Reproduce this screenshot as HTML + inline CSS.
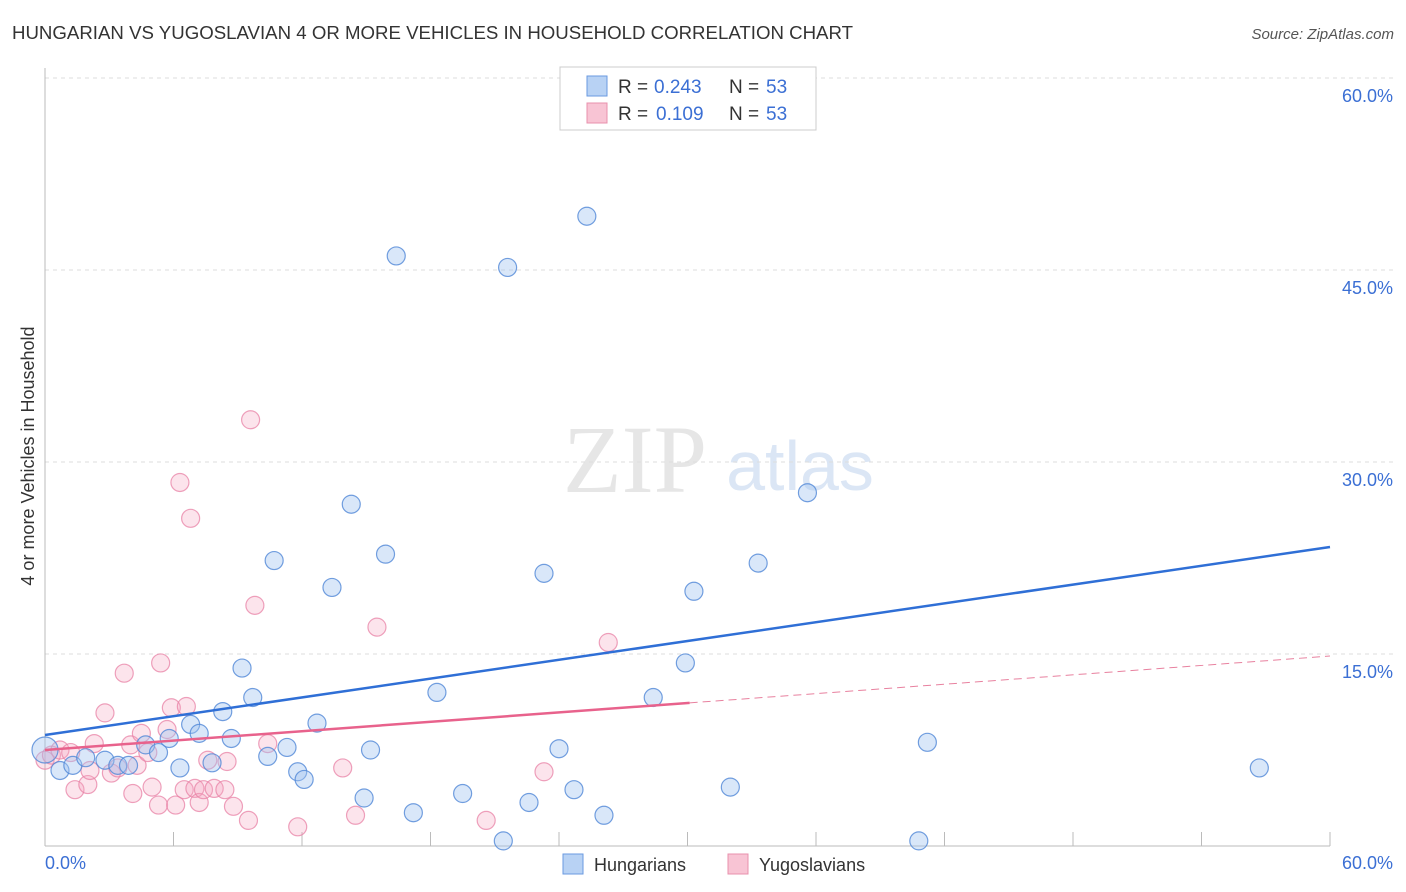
<!DOCTYPE html>
<html><head><meta charset="utf-8"><style>
body{margin:0;background:#fff;font-family:"Liberation Sans",sans-serif;}
svg{display:block}
</style></head><body>
<svg id="c" width="1406" height="892">
<text x="12" y="39" font-size="18" fill="#333" textLength="841" lengthAdjust="spacingAndGlyphs">HUNGARIAN VS YUGOSLAVIAN 4 OR MORE VEHICLES IN HOUSEHOLD CORRELATION CHART</text>
<text x="1394" y="39" font-size="15" fill="#555" text-anchor="end" font-style="italic">Source: ZipAtlas.com</text>
<text x="635" y="492" font-size="96" fill="#e6e6e6" font-family="Liberation Serif" text-anchor="middle">ZIP</text>
<text x="800" y="490" font-size="70" fill="#dbe6f5" text-anchor="middle">atlas</text>
<g id="grid"></g><g id="pts"></g><g id="lines"></g>
<text transform="translate(34,456) rotate(-90)" font-size="18" fill="#333" text-anchor="middle">4 or more Vehicles in Household</text>
<text x="45" y="869" font-size="18" fill="#3b6fd4">0.0%</text>
<text x="1393" y="869" font-size="18" fill="#3b6fd4" text-anchor="end">60.0%</text>
<g>
<rect x="560" y="67" width="256" height="63" fill="#fff" stroke="#ccc"/>
<rect x="587" y="76" width="20" height="20" fill="#b8d2f4" stroke="#6a9ae0"/>
<rect x="587" y="103" width="20" height="20" fill="#f8c4d4" stroke="#e890ad"/>
<text x="618" y="93" font-size="19" fill="#333">R =</text>
<text x="654" y="93" font-size="19" fill="#3b6fd4">0.243</text>
<text x="729" y="93" font-size="19" fill="#333">N =</text>
<text x="766" y="93" font-size="19" fill="#3b6fd4">53</text>
<text x="618" y="120" font-size="19" fill="#333">R =</text>
<text x="656" y="120" font-size="19" fill="#3b6fd4">0.109</text>
<text x="729" y="120" font-size="19" fill="#333">N =</text>
<text x="766" y="120" font-size="19" fill="#3b6fd4">53</text>
</g>
<g><rect x="563" y="854" width="20" height="20" fill="#b8d2f4" stroke="#6a9ae0"/><text x="594" y="871" font-size="18" fill="#333">Hungarians</text></g>
<g><rect x="728" y="854" width="20" height="20" fill="#f8c4d4" stroke="#e890ad"/><text x="759" y="871" font-size="18" fill="#333">Yugoslavians</text></g>
</svg>
<script>
const yTicks=[15,30,45,60];
const yTickLabels=["15.0%","30.0%","45.0%","60.0%"];
const xTicks=[0,6,12,18,24,30,36,42,48,54,60];
const hunX=[0,0.7,1.3,1.9,2.8,3.4,3.9,4.7,5.3,5.8,6.3,6.8,7.2,7.8,8.3,8.7,9.2,9.7,10.4,10.7,11.3,11.8,12.1,12.7,13.4,14.3,14.9,15.2,15.9,16.4,17.2,18.3,19.5,21.4,21.6,22.6,23.3,24.0,24.7,25.3,26.1,28.4,29.9,30.3,32.0,33.3,35.6,40.8,41.2,56.7];
const hunY=[7.5,5.9,6.3,6.9,6.7,6.3,6.3,7.9,7.3,8.4,6.1,9.5,8.8,6.5,10.5,8.4,13.9,11.6,7.0,22.3,7.7,5.8,5.2,9.6,20.2,26.7,3.75,7.5,22.8,46.1,2.6,12.0,4.1,0.4,45.2,3.4,21.3,7.6,4.4,49.2,2.4,11.6,14.3,19.9,4.6,22.1,27.6,0.4,8.1,6.1];
const yugX=[0,0.3,0.7,1.2,1.4,2.0,2.3,2.1,2.8,3.1,3.4,3.7,4.0,4.1,4.3,4.5,4.8,5.0,5.3,5.4,5.7,5.9,6.1,6.3,6.5,6.6,6.8,7.0,7.2,7.4,7.6,7.9,8.4,8.5,8.8,9.5,9.6,9.8,10.4,11.8,13.9,14.5,15.5,20.6,23.3,26.3];
const yugY=[6.7,7.1,7.5,7.3,4.4,4.8,8.0,5.9,10.4,5.7,6.1,13.5,7.9,4.1,6.3,8.8,7.3,4.6,3.2,14.3,9.1,10.8,3.2,28.4,4.4,10.9,25.6,4.5,3.4,4.4,6.7,4.5,4.4,6.6,3.1,2.0,33.3,18.8,8.0,1.5,6.1,2.4,17.1,2.0,5.8,15.9];
const hunTrend=[8.67,23.36];
const yugTrend=[7.5,14.84];
const yugSolidEnd=30.1;
const NS="http://www.w3.org/2000/svg";
const X=v=>45+v/60*1285, Y=v=>846-v/60*768;
function mk(t,a,p){const e=document.createElementNS(NS,t);for(const k in a)e.setAttribute(k,a[k]);p.appendChild(e);return e;}
const g=document.getElementById('grid'),pts=document.getElementById('pts'),ln=document.getElementById('lines');
yTicks.forEach((v,i)=>{
 const l=mk('line',{x1:45,x2:1395,y1:Y(v),y2:Y(v),stroke:'#ddd','stroke-dasharray':'4,4'},g);
 
 
 const t=mk('text',{x:1393,y:Y(v)+24,'font-size':18,fill:'#3b6fd4','text-anchor':'end'},g);
 t.textContent=yTickLabels[i];
 
 
});
const ax=mk('line',{x1:45,x2:45,y1:68,y2:846,stroke:'#bbb'},g);


const bx=mk('line',{x1:45,x2:1330,y1:846,y2:846,stroke:'#bbb'},g);


xTicks.forEach(v=>{
 const t=mk('line',{x1:X(v),x2:X(v),y1:832,y2:846,stroke:'#bbb'},g);
 
 
});
yugX.forEach((x,i)=>{
 const c=mk('circle',{cx:X(x),cy:Y(yugY[i]),r:9,fill:'rgba(245,165,192,0.3)',stroke:'rgba(232,130,165,0.75)','stroke-width':1.2},pts);
 
 
});
hunX.forEach((x,i)=>{
 const c=mk('circle',{cx:X(x),cy:Y(hunY[i]),r:i==0?13:9,fill:'rgba(160,196,240,0.4)',stroke:'rgba(80,135,215,0.8)','stroke-width':1.2},pts);
 
 
});
const yAt=(t,x)=>t[0]+(t[1]-t[0])*x/60;
const hl=mk('line',{x1:X(0),y1:Y(hunTrend[0]),x2:X(60),y2:Y(hunTrend[1]),stroke:'#2f6fd6','stroke-width':2.5},ln);


const pl=mk('line',{x1:X(0),y1:Y(yugTrend[0]),x2:X(yugSolidEnd),y2:Y(yAt(yugTrend,yugSolidEnd)),stroke:'#e8628c','stroke-width':2.5},ln);


const pd=mk('line',{x1:X(yugSolidEnd),y1:Y(yAt(yugTrend,yugSolidEnd)),x2:X(60),y2:Y(yugTrend[1]),stroke:'#e8819f','stroke-width':1,'stroke-dasharray':'8,5'},ln);


</script>
</body></html>
